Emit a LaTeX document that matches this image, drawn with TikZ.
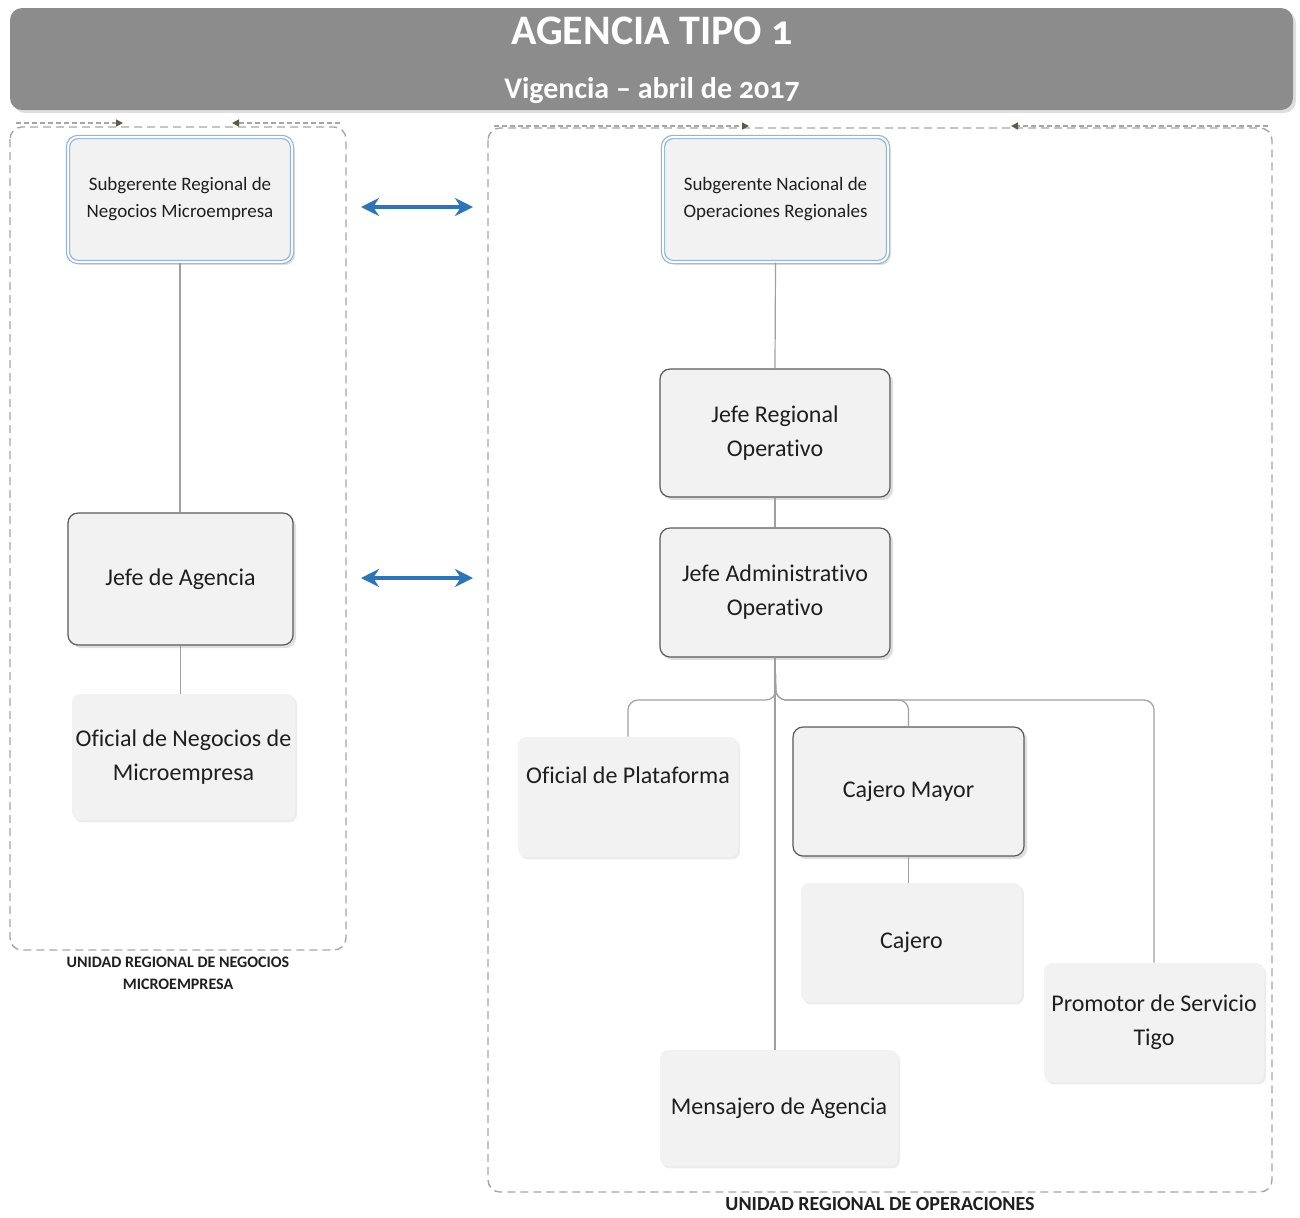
\documentclass[tikz,border=0pt]{standalone}
\usepackage{fontspec}
\setmainfont[Ligatures={NoCommon}]{Carlito}
\newfontfamily\titlefont[Numbers=OldStyle,Ligatures={NoCommon}]{Carlito}
\usetikzlibrary{shadows,arrows.meta,calc}
\definecolor{banner}{HTML}{8C8C8C}
\definecolor{boxfill}{HTML}{F2F2F2}
\definecolor{boxline}{HTML}{595959}
\definecolor{conn}{HTML}{A0A0A0}
\definecolor{cont}{HTML}{A6A6A6}
\definecolor{bluea}{HTML}{2E75B6}
\definecolor{blueb}{HTML}{8DB4E2}
\definecolor{txt}{HTML}{1F1F1F}
\definecolor{tiparr}{HTML}{5E5A48}
\begin{document}
\begin{tikzpicture}[x=0.5pt,y=-0.5pt,
  shad/.style={drop shadow={shadow xshift=1.5pt,shadow yshift=-1.5pt,opacity=0.25,fill=gray}},
  softshad/.style={drop shadow={shadow xshift=1pt,shadow yshift=-1.2pt,opacity=0.15,fill=gray}},
  topbox/.style={rounded corners=5pt,draw=blueb,double=white,double distance=1pt,line width=0.6pt,fill=boxfill,shad,
     align=center,font=\fontsize{9.5}{13.5}\selectfont,text=txt,inner sep=0pt},
  obox/.style={rounded corners=5pt,draw=boxline,line width=0.6pt,fill=boxfill,shad,
     align=center,font=\fontsize{12}{17}\selectfont,text=txt,inner sep=0pt},
  pbox/.style={rounded corners=4pt,fill=boxfill,softshad,
     align=center,font=\fontsize{12}{17}\selectfont,text=txt,inner sep=0pt},
  connline/.style={draw=conn,line width=0.6pt},
  container/.style={draw=cont,dashed,dash pattern=on 4pt off 2.5pt,line width=0.7pt,rounded corners=6pt},
  toparrow/.style={draw=cont,dashed,dash pattern=on 2.5pt off 1.5pt,line width=0.7pt,
     -{Triangle[length=3.5pt,width=3.5pt,fill=tiparr,color=tiparr]}},
  bluearrow/.style={draw=bluea,line width=2.2pt,{Stealth[length=9pt,width=9pt]}-{Stealth[length=9pt,width=9pt]}},
  unitlabel/.style={font=\bfseries\fontsize{8}{11}\selectfont,text=txt,align=center}
]
\useasboundingbox (0,0) rectangle (1300,1217);

% banner
\node[rounded corners=6pt,fill=banner,shad,minimum width=641.5pt,minimum height=51pt,inner sep=0pt] (banner) at (651.5,59) {};
\node[text=white,font=\titlefont\bfseries\fontsize{21}{24}\selectfont] (title) at (652,31) {AGENCIA TIPO 1};
\node[text=white,font=\titlefont\bfseries\fontsize{15}{20}\selectfont] (subtitle) at (652,91) {Vigencia – abril de 2017};

% containers
\draw[container] (10,127) rectangle (346,950);
\draw[container] (488,128) rectangle (1272,1192);
\coordinate (la1) at (16,123); \coordinate (la2) at (123,123);
\coordinate (lb1) at (340,123); \coordinate (lb2) at (232,123);
\coordinate (ra1) at (494,126); \coordinate (ra2) at (749,126);
\coordinate (rb1) at (1268,126); \coordinate (rb2) at (1011,126);
\draw[toparrow] (la1) -- (la2);
\draw[toparrow] (lb1) -- (lb2);
\draw[toparrow] (ra1) -- (ra2);
\draw[toparrow] (rb1) -- (rb2);

% nodes
\node[topbox,minimum width=112pt,minimum height=62.5pt] (s1) at (180,199.5) {Subgerente Regional de\\Negocios Microempresa};
\node[topbox,minimum width=112.5pt,minimum height=62.5pt] (s2) at (775.5,199.5) {Subgerente Nacional de\\Operaciones Regionales};
\node[obox,minimum width=112.5pt,minimum height=66pt] (jda) at (180.5,579) {Jefe de Agencia};
\node[pbox,minimum width=111.5pt,minimum height=63pt] (onm) at (183.5,757) {Oficial de Negocios de\\Microempresa};
\node[obox,minimum width=115pt,minimum height=64pt] (jro) at (775,433) {Jefe Regional\\Operativo};
\node[obox,minimum width=115pt,minimum height=64.5pt] (jao) at (775,592.5) {Jefe Administrativo\\Operativo};
\node[pbox,minimum width=110pt,minimum height=60pt,text height=8pt,text depth=22pt] (op) at (628,797) {Oficial de Plataforma};
\node[obox,minimum width=115.5pt,minimum height=64.5pt] (cm) at (908.5,791.5) {Cajero Mayor};
\node[pbox,minimum width=110.5pt,minimum height=59.5pt] (caj) at (911.5,942.5) {Cajero};
\node[pbox,minimum width=110pt,minimum height=59.5pt] (pst) at (1154,1022.5) {Promotor de Servicio\\Tigo};
\node[pbox,minimum width=119pt,minimum height=58pt] (mda) at (779,1108) {Mensajero de Agencia};

% connectors
\draw[connline] (s1.south) -- (s1.south |- jda.north);
\draw[connline] (jda.south) -- (jda.south |- onm.north);
\draw[connline] (s2.south) -- (jro.north);
\draw[connline] (jro.south) -- (jao.north);
\coordinate (bus) at (776,700);
\draw[connline,rounded corners=5pt] (jao.south) -- (bus) -| (op.north);
\draw[connline,rounded corners=5pt] (jao.south) -- (bus) -| (cm.north);
\draw[connline,rounded corners=5pt] (jao.south) -- (bus) -| (pst.north);
\draw[connline] (jao.south) -- (jao.south |- mda.north);
\draw[connline] (cm.south) -- (cm.south |- caj.north);

% blue arrows
\coordinate (b1l) at (361,207); \coordinate (b1r) at (473,207);
\coordinate (b2l) at (361,578); \coordinate (b2r) at (473,578);
\draw[bluearrow] (b1l) -- (b1r);
\draw[bluearrow] (b2l) -- (b2r);

% unit labels
\node[unitlabel] (u1) at (178,973) {UNIDAD REGIONAL DE NEGOCIOS\\MICROEMPRESA};
\node[unitlabel,font=\bfseries\fontsize{10}{12}\selectfont] (u2) at (880,1204) {UNIDAD REGIONAL DE OPERACIONES};
\end{tikzpicture}
\end{document}
